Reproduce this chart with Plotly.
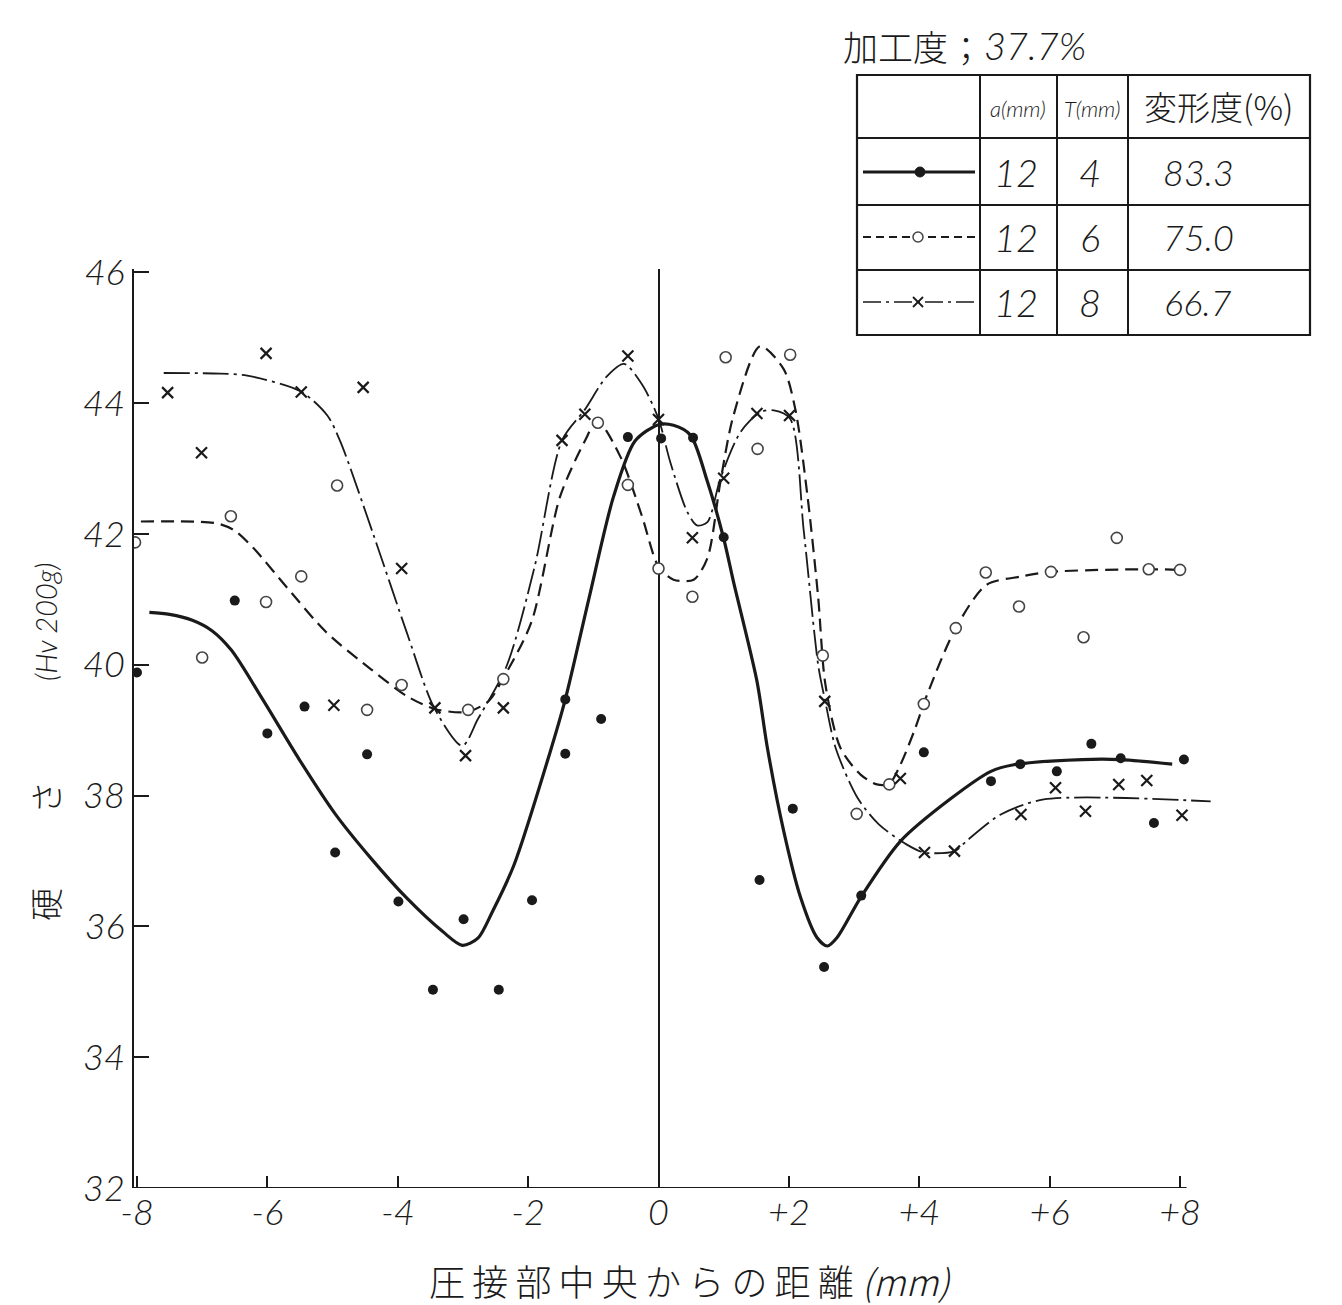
import plotly.graph_objects as go

# T = 4 mm (filled dots)
x_t4 = [-8.0, -6.5, -6.0, -5.43, -4.96, -4.47, -3.99, -3.46, -2.99, -2.45, -1.94, -1.43, -1.43,
        -0.88, -0.47, 0.04, 0.53, 1.0, 1.55, 2.06, 2.54, 3.11, 4.07, 5.10, 5.55, 6.11, 6.64,
        7.09, 7.60, 8.06]
y_t4 = [39.88, 40.98, 38.95, 39.36, 37.13, 38.63, 36.38, 35.03, 36.11, 35.03, 36.40, 38.64, 39.47,
        39.17, 43.48, 43.46, 43.47, 41.95, 36.71, 37.80, 35.38, 36.47, 38.66, 38.22, 38.48, 38.37,
        38.79, 38.57, 37.58, 38.55]

# T = 6 mm (open circles)
x_t6 = [-8.03, -7.0, -6.56, -6.02, -5.48, -4.93, -4.47, -3.94, -2.92, -2.38, -0.93, -0.47, 0.0,
        0.52, 1.03, 1.52, 2.02, 2.52, 3.04, 3.54, 4.07, 4.56, 5.02, 5.53, 6.02, 6.52, 7.03, 7.52, 8.0]
y_t6 = [41.87, 40.11, 42.27, 40.96, 41.35, 42.74, 39.31, 39.69, 39.31, 39.78, 43.70, 42.75, 41.47,
        41.04, 44.70, 43.30, 44.74, 40.14, 37.72, 38.17, 39.40, 40.56, 41.41, 40.89, 41.42, 40.42,
        41.94, 41.46, 41.45]

# T = 8 mm (crosses)
x_t8 = [-7.53, -7.01, -6.02, -5.48, -4.98, -4.53, -3.94, -3.43, -2.96, -2.38, -1.48, -1.13, -0.47,
        0.0, 0.52, 1.0, 1.51, 2.01, 2.55, 3.71, 4.08, 4.54, 5.56, 6.09, 6.55, 7.06, 7.49, 8.03]
y_t8 = [44.16, 43.24, 44.76, 44.17, 39.38, 44.24, 41.47, 39.34, 38.61, 39.34, 43.43, 43.83, 44.72,
        43.75, 41.94, 42.85, 43.84, 43.81, 39.44, 38.26, 37.13, 37.15, 37.71, 38.12, 37.76, 38.17,
        38.23, 37.70]

# ---------------- hand-drawn mean curves ----------------
cx_t4 = [-7.81, -7.5, -7.15, -6.85, -6.55, -6.06, -5.51, -4.96, -4.41, -3.86, -3.31, -3.01, -2.77,
         -2.55, -2.22, -1.67, -1.43, -1.07, -0.69, -0.36, 0.0, 0.23, 0.49, 0.75, 1.0, 1.15, 1.51,
         1.67, 1.92, 2.18, 2.43, 2.59, 2.74, 3.1, 3.71, 4.48, 5.1, 5.45, 6.5, 7.09, 7.88]
cy_t4 = [40.80, 40.77, 40.68, 40.52, 40.22, 39.45, 38.55, 37.72, 37.04, 36.43, 35.92, 35.71, 35.82,
         36.22, 36.93, 38.64, 39.47, 41.0, 42.57, 43.42, 43.67, 43.66, 43.51, 42.80, 41.93, 41.27,
         39.75, 38.73, 37.46, 36.44, 35.83, 35.70, 35.83, 36.44, 37.30, 37.95, 38.37, 38.47, 38.55,
         38.55, 38.48]

cx_t6 = [-7.94, -6.77, -6.5, -6.21, -5.69, -5.1, -4.41, -3.86, -3.42, -2.93, -2.6, -2.39, -1.95,
         -1.51, -1.13, -0.94, -0.58, -0.25, 0.0, 0.23, 0.54, 0.75, 0.95, 1.15, 1.56, 1.92, 2.1,
         2.29, 2.45, 2.56, 2.79, 3.1, 3.35, 3.54, 3.71, 3.92, 4.12, 4.56, 5.03, 5.57, 6.02, 7.49, 8.0]
cy_t6 = [42.19, 42.16, 42.05, 41.78, 41.17, 40.50, 39.93, 39.52, 39.32, 39.28, 39.45, 39.78, 40.65,
         42.57, 43.42, 43.73, 43.17, 42.26, 41.50, 41.30, 41.30, 41.63, 42.80, 43.81, 44.87, 44.52,
         43.90, 42.54, 41.02, 39.70, 38.73, 38.32, 38.17, 38.18, 38.47, 38.98, 39.54, 40.56, 41.22,
         41.35, 41.42, 41.46, 41.45]

cx_t8 = [-7.59, -6.72, -6.31, -5.49, -5.08, -4.88, -4.37, -3.85, -3.44, -3.01, -2.77, -2.33, -1.9,
         -1.48, -1.13, -0.8, -0.53, -0.25, 0.0, 0.18, 0.44, 0.59, 0.75, 0.95, 1.26, 1.56, 1.77,
         2.02, 2.23, 2.45, 2.56, 2.72, 3.05, 3.38, 3.81, 4.07, 4.54, 4.73, 5.25, 5.91, 8.47]
cy_t8 = [44.46, 44.45, 44.42, 44.18, 43.81, 43.41, 41.98, 40.46, 39.34, 38.76, 39.17, 39.98, 41.5,
         43.43, 43.90, 44.40, 44.60, 44.28, 43.76, 43.10, 42.34, 42.13, 42.18, 42.85, 43.56, 43.86,
         43.89, 43.76, 42.03, 39.99, 39.43, 38.72, 37.97, 37.56, 37.25, 37.13, 37.15, 37.31, 37.71,
         37.94, 37.91]

x_ticks = [-8, -6, -4, -2, 0, 2, 4, 6, 8]
x_ticklabels = ["-8", "-6", "-4", "-2", "0", "+2", "+4", "+6", "+8"]
y_ticks = [32, 34, 36, 38, 40, 42, 44, 46]
y_ticklabels = ["32", "34", "36", "38", "40", "42", "44", "46"]

# legend table contents
table_a = ["12", "12", "12"]
table_T = ["4", "6", "8"]
table_def = ["83.3", "75.0", "66.7"]

# ---------------- figure ----------------
W, H = 1342, 1305
ML, MR, MT, MB = 134, 127, 269, 117
PW, PH = W - ML - MR, H - MT - MB

def px(x):
    return (x - ML) / PW

def py(y):
    return 1 - (y - MT) / PH

NUMFONT = "Lato, Open Sans, sans-serif"
NUMW = 300
CJK = "Noto Sans CJK JP, Noto Sans CJK SC, sans-serif"
INK = "#1a1a1a"

fig = go.Figure()

fig.add_trace(go.Scatter(x=cx_t4, y=cy_t4, mode="lines",
                         line=dict(color=INK, width=3.2, shape="spline", smoothing=0.8),
                         hoverinfo="skip", showlegend=False))
fig.add_trace(go.Scatter(x=cx_t6, y=cy_t6, mode="lines",
                         line=dict(color=INK, width=2.2, dash="13px,7px", shape="spline", smoothing=0.8),
                         hoverinfo="skip", showlegend=False))
fig.add_trace(go.Scatter(x=cx_t8, y=cy_t8, mode="lines",
                         line=dict(color=INK, width=1.8, dash="26px,5px,3px,5px", shape="spline", smoothing=0.8),
                         hoverinfo="skip", showlegend=False))

fig.add_trace(go.Scatter(x=x_t6, y=y_t6, mode="markers",
                         marker=dict(symbol="circle", size=11, color="white",
                                     line=dict(color="#444", width=1.6)),
                         showlegend=False))
fig.add_trace(go.Scatter(x=x_t8, y=y_t8, mode="markers",
                         marker=dict(symbol="x-thin", size=11, color=INK,
                                     line=dict(color=INK, width=2.2)),
                         showlegend=False))
fig.add_trace(go.Scatter(x=x_t4, y=y_t4, mode="markers",
                         marker=dict(symbol="circle", size=10, color=INK),
                         showlegend=False))

x_lo = (ML - 658.5) / 65.19
x_hi = (W - MR - 658.5) / 65.19

tickfont = dict(family=NUMFONT, size=36, color=INK, style="italic", weight=NUMW)
fig.update_xaxes(range=[x_lo, x_hi], showline=False, showgrid=False,
                 zeroline=True, zerolinecolor=INK, zerolinewidth=1.6,
                 ticks="inside", ticklen=12, tickwidth=1.6, tickcolor=INK,
                 tickvals=x_ticks, ticktext=x_ticklabels, tickfont=tickfont)
fig.update_yaxes(range=[32, 46.05], showline=True, linecolor=INK, linewidth=2,
                 showgrid=False, zeroline=False,
                 ticks="inside", ticklen=15, tickwidth=1.6, tickcolor=INK,
                 tickvals=y_ticks, ticktext=y_ticklabels, tickfont=tickfont)

shapes = []
# x axis base line (stops at +8 like the original)
shapes.append(dict(type="line", xref="x", yref="y", x0=x_lo, x1=8.1, y0=32, y1=32,
                   line=dict(color=INK, width=2)))

# legend table frame
tl, tr, tt, tb = 857, 1310, 75, 335
cols = [980, 1057, 1128]
rows = [138, 205, 270]
shapes.append(dict(type="rect", xref="paper", yref="paper",
                   x0=px(tl), x1=px(tr), y0=py(tb), y1=py(tt),
                   line=dict(color=INK, width=2.2)))
for c in cols:
    shapes.append(dict(type="line", xref="paper", yref="paper", x0=px(c), x1=px(c),
                       y0=py(tb), y1=py(tt), line=dict(color=INK, width=2)))
for r in rows:
    shapes.append(dict(type="line", xref="paper", yref="paper", x0=px(tl), x1=px(tr),
                       y0=py(r), y1=py(r), line=dict(color=INK, width=2)))

row_mid = [172, 237, 302]
# sample lines
shapes.append(dict(type="line", xref="paper", yref="paper", x0=px(863), x1=px(975),
                   y0=py(row_mid[0]), y1=py(row_mid[0]), line=dict(color=INK, width=3)))
shapes.append(dict(type="line", xref="paper", yref="paper", x0=px(863), x1=px(975),
                   y0=py(row_mid[1]), y1=py(row_mid[1]), line=dict(color=INK, width=2, dash="8px,5px")))
shapes.append(dict(type="line", xref="paper", yref="paper", x0=px(863), x1=px(975),
                   y0=py(row_mid[2]), y1=py(row_mid[2]), line=dict(color=INK, width=1.6, dash="18px,5px,3px,5px")))
# sample markers
r = 5
shapes.append(dict(type="circle", xref="paper", yref="paper", x0=px(920 - r), x1=px(920 + r),
                   y0=py(row_mid[0] + r), y1=py(row_mid[0] - r), fillcolor=INK, line=dict(color=INK, width=1)))
shapes.append(dict(type="circle", xref="paper", yref="paper", x0=px(918 - r), x1=px(918 + r),
                   y0=py(row_mid[1] + r), y1=py(row_mid[1] - r), fillcolor="white", line=dict(color="#444", width=1.5)))
for dx, dy in [(1, 1), (1, -1)]:
    shapes.append(dict(type="line", xref="paper", yref="paper", x0=px(918 - 5), x1=px(918 + 5),
                       y0=py(row_mid[2] - 5 * dy), y1=py(row_mid[2] + 5 * dy),
                       line=dict(color=INK, width=1.8)))

annotations = []

def ann(text, xp, yp, size, family=NUMFONT, italic=False, angle=0, weight=NUMW):
    annotations.append(dict(text=text, xref="paper", yref="paper", x=px(xp), y=py(yp),
                            xanchor="center", yanchor="middle", showarrow=False, textangle=angle,
                            font=dict(family=family, size=size, color=INK, weight=weight,
                                      style="italic" if italic else "normal")))

# legend title
ann("加工度", 895, 45, 35, family=CJK, weight=300)
ann("；", 966, 47, 34, family=CJK, weight=300)
ann("37.7%", 1035, 45, 38, italic=True)
# table header
ann("a(mm)", 1018, 108, 22, italic=True)
ann("T(mm)", 1092, 108, 22, italic=True)
ann("変形度(%)", 1218, 106, 33, family=CJK, weight=300)
for i in range(3):
    ann(table_a[i], 1016, row_mid[i], 38, italic=True)
    ann(table_T[i], 1090, row_mid[i], 38, italic=True)
    ann(table_def[i], 1198, row_mid[i], 36, italic=True)

# axis titles
sp = "\u2009"
ann(sp.join("圧接部中央からの距離") + " <i>(mm)</i>", 690, 1280, 36, family=CJK, weight=300)
ann("硬", 45, 905, 33, family=CJK, angle=-90, weight=300)
ann("さ", 45, 798, 33, family=CJK, angle=-90, weight=300)
ann("(Hv 200g)", 45, 622, 29, italic=True, angle=-90)

fig.update_layout(width=W, height=H, margin=dict(l=ML, r=MR, t=MT, b=MB),
                  paper_bgcolor="white", plot_bgcolor="white",
                  shapes=shapes, annotations=annotations, showlegend=False)

fig.write_html("out.html")
